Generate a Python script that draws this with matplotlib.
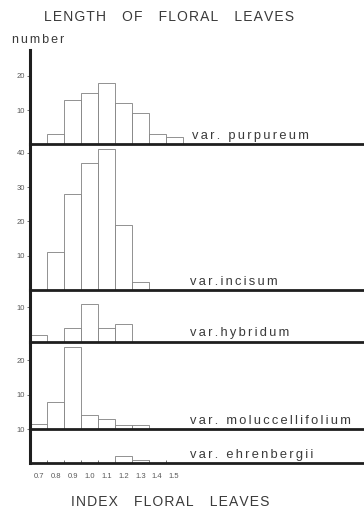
import matplotlib
matplotlib.use("Agg")
import matplotlib.pyplot as plt
import numpy as np

# index classes (bin centres) and counts per variety
index_classes = [0.7, 0.8, 0.9, 1.0, 1.1, 1.2, 1.3, 1.4, 1.5]
tick_labels = ["0.7", "0.8", "0.9", "1.0", "1.1", "1.2", "1.3", "1.4", "1.5"]

purpureum = [0, 3, 13, 15, 18, 12, 9, 3, 2]
incisum = [0, 11, 28, 37, 41, 19, 2.5, 0, 0]
hybridum = [2, 0, 4, 11, 4, 5, 0, 0, 0]
moluccellifolium = [1.5, 8, 24, 4, 3, 1.2, 1.2, 0, 0]
ehrenbergii = [0, 0, 0, 0, 0, 2, 1, 0, 0]

varieties = ["var. purpureum", "var.incisum", "var.hybridum",
             "var. moluccellifolium", "var. ehrenbergii"]
series = [purpureum, incisum, hybridum, moluccellifolium, ehrenbergii]
y_max = [27.5, 42.5, 15, 25.5, 10]
y_ticks = [[10, 20], [10, 20, 30, 40], [10], [10, 20], [10]]

ink = "#1e1e1e"
text_col = "#3a3a3a"
tick_col = "#595959"
bar_edge = "#808080"

plt.rcParams["font.family"] = ["Liberation Sans", "DejaVu Sans"]


def tracked(s, n=1):
    # widen letter spacing by putting hair spaces between characters
    return ("\u200a" * n).join(s)


fig = plt.figure(figsize=(3.64, 5.11), dpi=100)
gs = fig.add_gridspec(len(series), 1, height_ratios=y_max, hspace=0,
                      left=30.5 / 364, right=1.0,
                      top=1 - 50 / 511, bottom=1 - 463.3 / 511)

width = 0.1
x_left = 0.65
x_right = x_left + (364 - 30.5) / 169.0

for i, (name, counts, top, yt) in enumerate(zip(varieties, series, y_max, y_ticks)):
    ax = fig.add_subplot(gs[i])
    # transparent panel so it does not hide the thick baseline above it
    ax.patch.set_visible(False)
    ax.bar(index_classes, counts, width=width, align="center",
           facecolor="white", edgecolor=bar_edge, linewidth=0.6, zorder=2)
    ax.set_xlim(x_left, x_right)
    ax.set_ylim(0, top)

    for side in ("top", "right"):
        ax.spines[side].set_visible(False)
    ax.spines["left"].set_linewidth(2.2)
    ax.spines["left"].set_color(ink)
    ax.spines["bottom"].set_linewidth(2.0)
    ax.spines["bottom"].set_color(ink)
    ax.spines["bottom"].set_zorder(3)

    ax.set_yticks(yt)
    ax.set_yticklabels([str(v) for v in yt])
    ax.tick_params(axis="y", direction="out", length=2.5, width=0.6,
                   colors=tick_col, labelsize=5.5, pad=1.5)

    if i == len(series) - 1:
        edges = np.array(index_classes[1:]) - width / 2
        ax.set_xticks(edges, minor=True)
        ax.set_xticks(index_classes)
        ax.set_xticklabels(tick_labels)
        ax.tick_params(axis="x", which="minor", direction="in", length=2,
                       width=0.6, colors=tick_col)
        ax.tick_params(axis="x", which="major", length=0, labelsize=5.5,
                       colors=tick_col, pad=7)
    else:
        ax.set_xticks([])

    x0 = 1.605 if i == 0 else 1.595
    ax.text(x0, 2.4, tracked(name, 2), ha="left", va="center", fontsize=9.3,
            color=text_col)

fig.text(169 / 364, 1 - 17 / 511, tracked("LENGTH   OF   FLORAL   LEAVES"),
         ha="center", va="center", fontsize=10, color=text_col)
fig.text(12 / 364, 1 - 40 / 511, tracked("number", 2), ha="left", va="center",
         fontsize=9, color=text_col)
fig.text(170 / 364, 1 - 502 / 511, tracked("INDEX   FLORAL   LEAVES"),
         ha="center", va="center", fontsize=10, color=text_col)

fig.savefig("out.png", dpi=100, facecolor="white")
